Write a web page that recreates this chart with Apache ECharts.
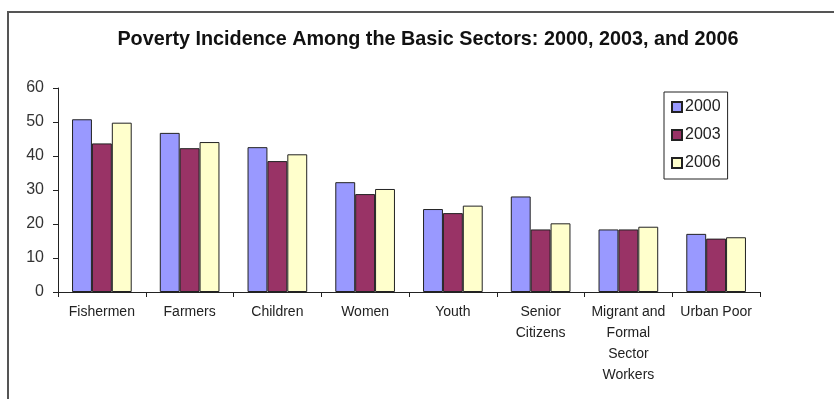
<!DOCTYPE html>
<html>
<head>
<meta charset="utf-8">
<script src="https://cdn.jsdelivr.net/npm/echarts@6/dist/echarts.min.js"></script>
<style>
html,body{margin:0;padding:0;background:#fff;}
#chart{width:834px;height:399px;}
</style>
</head>
<body>
<div id="chart"></div>
<script>
const categories = ["Fishermen", "Farmers", "Children", "Women", "Youth", "Senior\nCitizens", "Migrant and\nFormal\nSector\nWorkers", "Urban Poor"];
const years = ["2000", "2003", "2006"];
const values2000 = [50.8, 46.8, 42.6, 32.3, 24.4, 28.1, 18.4, 17.1];
const values2003 = [43.7, 42.3, 38.5, 28.8, 23.2, 18.4, 18.4, 15.7];
const values2006 = [49.8, 44.1, 40.5, 30.3, 25.4, 20.2, 19.2, 16.1];
const yTicks = [0, 10, 20, 30, 40, 50, 60];
const colors = ["#9999FF", "#993366", "#FFFFCC"];
const seriesValues = [values2000, values2003, values2006];

const chart = echarts.init(document.getElementById('chart'), null, {renderer: 'canvas'});
const font = '"Liberation Sans", Arial, sans-serif';
chart.setOption({
  animation: false,
  backgroundColor: '#fff',
  title: {
    text: 'Poverty Incidence Among the Basic Sectors: 2000, 2003, and 2006',
    left: 423, top: 25, textAlign: 'center',
    textStyle: {fontFamily: font, fontWeight: 'bold', fontSize: 19.8, color: '#111'}
  },
  graphic: [{
    type: 'polyline', silent: true,
    shape: {points: [[8, 399], [8, 12], [834, 12]]},
    style: {stroke: '#555', lineWidth: 2, fill: null}
  }],
  legend: {
    orient: 'vertical', left: 664, top: 92,
    data: years,
    itemWidth: 10, itemHeight: 10, itemGap: 10,
    padding: [6, 7, 7, 7],
    borderColor: '#222', borderWidth: 1,
    icon: 'rect',
    textStyle: {fontFamily: font, fontSize: 16, color: '#222', lineHeight: 18, padding: [0, 0, 0, -2]},
  },
  grid: {left: 58, right: 74, top: 88, bottom: 107, containLabel: false},
  xAxis: {
    type: 'category', data: categories,
    axisLine: {lineStyle: {color: '#222', width: 1}},
    axisTick: {show: true, length: 5, lineStyle: {color: '#222'}},
    axisLabel: {fontFamily: font, fontSize: 14, color: '#222', lineHeight: 21, margin: 10, interval: 0}
  },
  yAxis: {
    type: 'value', min: 0, max: 60, interval: 10,
    splitLine: {show: false},
    axisLine: {show: true, lineStyle: {color: '#222', width: 1}},
    axisTick: {show: true, length: 5, lineStyle: {color: '#222'}},
    axisLabel: {fontFamily: font, fontSize: 16, color: '#333', margin: 14,
      formatter: v => yTicks.includes(v) ? String(v) : ''}
  },
  series: years.map((y, i) => ({
    name: y, type: 'bar', data: seriesValues[i],
    barGap: '0%', barCategoryGap: '32%',
    itemStyle: {color: colors[i], borderColor: '#222', borderWidth: 1}
  }))
});
</script>
</body>
</html>
